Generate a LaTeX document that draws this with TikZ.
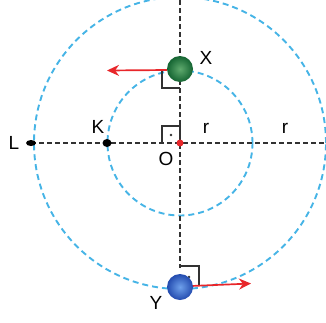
\documentclass[tikz,border=0pt]{standalone}
\usepackage{fontspec}
\setmainfont{Liberation Sans}
\usetikzlibrary{arrows.meta,shapes.geometric}
\definecolor{orbit}{RGB}{70,180,230}
\definecolor{axisgray}{RGB}{50,50,50}
\definecolor{velred}{RGB}{232,38,42}
\definecolor{ballgreenA}{RGB}{95,170,110}
\definecolor{ballgreenB}{RGB}{20,100,50}
\definecolor{ballblueA}{RGB}{110,160,235}
\definecolor{ballblueB}{RGB}{35,75,175}
\tikzset{
  orbitline/.style={draw=orbit, line width=1.9pt, dash pattern=on 6pt off 4pt},
  axisline/.style={draw=axisgray, line width=1.6pt, dash pattern=on 5pt off 3pt},
  velocity/.style={draw=velred, line width=1.7pt, -{Stealth[length=12pt,width=11pt]}},
  rightangle/.style={draw=axisgray, line width=1.4pt},
  lbl/.style={font=\fontsize{19}{21}\selectfont, text=black, inner sep=0pt},
  pointdot/.style={fill=black, ellipse},
}
\begin{document}
\begin{tikzpicture}[x=1pt,y=-1pt]
\useasboundingbox (0,0) rectangle (326,322);
\clip (0,0) rectangle (326,322);
\coordinate (O) at (180,143);
\coordinate (Xc) at (180,69);
\coordinate (Yc) at (180,287);
\coordinate (Lc) at (31,143);
\coordinate (Kc) at (107,143);
\coordinate (top) at (180,0);
\coordinate (vend) at (180,268);
\coordinate (hend) at (326,143);
% orbits
\draw[orbitline] (O) circle (72.5pt);
\draw[orbitline] (O) circle (146pt);
% axes
\draw[axisline] (top) -- (vend);
\draw[axisline] (Lc) -- (hend);
% right angle markers
\draw[rightangle] (162,71) -- (162,88) -- (180,88);
\draw[rightangle] (162,143) -- (162,126) -- (180,126) -- (180,143);
\fill[axisgray] (171,135) circle (1.4pt);
\draw[rightangle] (180,266) -- (199,266) -- (199,285);
\fill[axisgray] (189,277) circle (1.4pt);
% velocity arrows
\coordinate (Xv) at (107,70.5);
\coordinate (Yv) at (251,283.5);
\draw[velocity] (Xc) ++(-13,1) coordinate (Xs) -- (Xv);
\draw[velocity] (Yc) ++(11,-1) coordinate (Ys) -- (Yv);
% balls
\node[circle, minimum size=26pt, inner sep=0pt, inner color=ballgreenA, outer color=ballgreenB] (X) at (Xc) {};
\node[circle, minimum size=26pt, inner sep=0pt, inner color=ballblueA, outer color=ballblueB] (Y) at (Yc) {};
% points
\node[pointdot, minimum width=10pt, minimum height=6pt, inner sep=0pt] (L) at (Lc) {};
\node[pointdot, minimum width=9pt, minimum height=8pt, inner sep=0pt] (K) at (Kc) {};
\node[circle, fill=velred, minimum size=7pt, inner sep=0pt] (Odot) at (O) {};
% labels
\node[lbl] (lX) at (206,58) {X};
\node[lbl] (lY) at (156,303) {Y};
\node[lbl] (lL) at (14,143) {L};
\node[lbl] (lK) at (98,127) {K};
\node[lbl] (lO) at (166,159) {O};
\node[lbl] (lr1) at (206,128) {r};
\node[lbl] (lr2) at (285,128) {r};
\end{tikzpicture}
\end{document}
